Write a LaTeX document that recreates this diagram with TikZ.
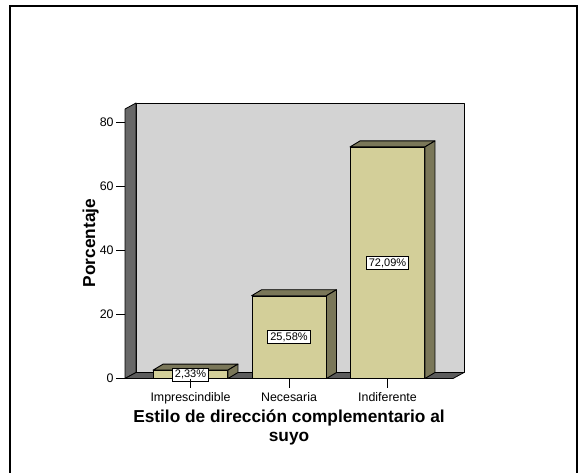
\documentclass[tikz,border=0pt]{standalone}
\usepackage{fontspec}
\setmainfont{Liberation Sans}
\usetikzlibrary{calc}
\definecolor{barfrontc}{RGB}{211,207,153}
\definecolor{barsidec}{RGB}{122,119,89}
\definecolor{backwallc}{RGB}{211,211,211}
\definecolor{sidewallc}{RGB}{104,104,104}
\definecolor{floorc}{RGB}{92,92,92}
\begin{document}
\begin{tikzpicture}[x=1pt,y=-1pt,
  wall/.style={draw=black, line width=0.8pt, line join=round},
  barface/.style={draw=black, line width=0.9pt, fill=barfrontc, minimum width=74, inner sep=0pt, anchor=south},
  barsideface/.style={draw=black, line width=0.9pt, fill=barsidec, line join=round},
  vallabel/.style={draw=black, line width=0.6pt, fill=white, font=\fontsize{11}{12}\selectfont, inner xsep=2.6pt, inner ysep=2pt, text height=8pt, text depth=1pt},
  ticklab/.style={font=\fontsize{12.4}{14}\selectfont, inner sep=0pt, anchor=east},
  catlab/.style={font=\fontsize{12.4}{14}\selectfont, inner sep=0pt, anchor=base},
  axtitle/.style={font=\bfseries\fontsize{17.3}{18.5}\selectfont, inner sep=0pt},
  tickline/.style={line width=0.8pt}]
\useasboundingbox (0,0) rectangle (584,472);
% frame
\draw[line width=1.5pt] (10,474) -- (10,6) -- (577,6) -- (577,474);
% walls
\filldraw[wall, fill=backwallc] (136,103) rectangle (464,372.5);
\filldraw[wall, fill=sidewallc] (125,378.5) -- (125,109) -- (136,103) -- (136,372.5) -- cycle;
\filldraw[wall, fill=floorc] (125,378.5) -- (136,372.5) -- (464,372.5) -- (453,378.5) -- cycle;
% y ticks
\foreach \v/\y in {0/378.5, 20/314.5, 40/250.5, 60/186.5, 80/122.5} {
  \coordinate (yt\v) at (125,\y);
  \draw[tickline] (yt\v) -- ++(-9,0) node[ticklab, xshift=-2pt] (yl\v) {\v};
}
% bars
\node[barface, minimum height=7.46] (b1) at (190.5,378.5) {};
\filldraw[barsideface] (b1.north west) -- ++(10,-6) -- ($(b1.north east)+(10,-6)$) -- (b1.north east) -- cycle;
\filldraw[barsideface] (b1.north east) -- ++(10,-6) -- ($(b1.south east)+(10,-6)$) -- (b1.south east) -- cycle;
\node[barface, minimum height=81.86] (b2) at (289,378.5) {};
\filldraw[barsideface] (b2.north west) -- ++(10,-6) -- ($(b2.north east)+(10,-6)$) -- (b2.north east) -- cycle;
\filldraw[barsideface] (b2.north east) -- ++(10,-6) -- ($(b2.south east)+(10,-6)$) -- (b2.south east) -- cycle;
\node[barface, minimum height=230.7] (b3) at (387.5,378.5) {};
\filldraw[barsideface] (b3.north west) -- ++(10,-6) -- ($(b3.north east)+(10,-6)$) -- (b3.north east) -- cycle;
\filldraw[barsideface] (b3.north east) -- ++(10,-6) -- ($(b3.south east)+(10,-6)$) -- (b3.south east) -- cycle;
% value labels
\node[vallabel] (v1) at (b1.center) {2,33\%};
\node[vallabel] (v2) at (b2.center) {25,58\%};
\node[vallabel] (v3) at (b3.center) {72,09\%};
% category ticks and labels
\draw[tickline] (b1.south) -- ++(0,9.5);
\draw[tickline] (b2.south) -- ++(0,9.5);
\draw[tickline] (b3.south) -- ++(0,9.5);
\node[catlab] (c1) at (190.5,401.7) {Imprescindible};
\node[catlab] (c2) at (289,401.7) {Necesaria};
\node[catlab] (c3) at (387.5,401.7) {Indiferente};
% axis titles
\node[axtitle, align=center, anchor=base] (xt) at (289,441) {Estilo de dirección complementario al\\suyo};
\node[axtitle, rotate=90, anchor=base] (yt) at (95,243) {Porcentaje};
\end{tikzpicture}
\end{document}
